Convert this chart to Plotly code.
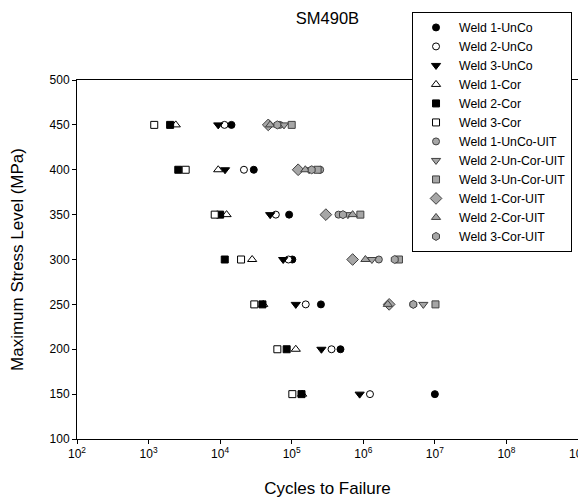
import plotly.graph_objects as go

stress = [450, 400, 350, 300, 250, 200, 150]
stress_uit = [450, 400, 350, 300, 250]

weld1_unco = [1.44e4, 2.95e4, 9.2e4, 1.02e5, 2.56e5, 4.8e5, 1.0e7]
weld2_unco = [1.15e4, 2.15e4, 6.0e4, 9.0e4, 1.57e5, 3.6e5, 1.24e6]
weld3_unco = [9.4e3, 1.17e4, 5.0e4, 7.6e4, 1.14e5, 2.6e5, 8.9e5]
weld1_cor = [2.4e3, 9.4e3, 1.23e4, 2.8e4, 4.0e4, 1.14e5, 1.4e5]
weld2_cor = [2.0e3, 2.6e3, 1.0e4, 1.16e4, 3.9e4, 8.5e4, 1.37e5]
weld3_cor = [1.2e3, 3.3e3, 8.4e3, 1.96e4, 3.0e4, 6.3e4, 1.02e5]

weld1_unco_uit = [6.8e4, 2.5e5, 4.5e5, 1.65e6, 5.0e6]
weld2_uncor_uit = [7.8e4, 1.75e5, 6.1e5, 1.32e6, 6.9e6]
weld3_uncor_uit = [1.0e5, 2.3e5, 9.1e5, 3.15e6, 1.02e7]
weld1_cor_uit = [4.7e4, 1.23e5, 3.0e5, 7.1e5, 2.3e6]
weld2_cor_uit = [5.0e4, 1.55e5, 7.1e5, 1.07e6, 2.2e6]
weld3_cor_uit = [6.3e4, 1.9e5, 5.2e5, 2.75e6, 5.0e6]

x_tickvals = [1e2, 1e3, 1e4, 1e5, 1e6, 1e7, 1e8, 1e9]
x_ticktext = ["10<sup>2</sup>", "10<sup>3</sup>", "10<sup>4</sup>", "10<sup>5</sup>",
              "10<sup>6</sup>", "10<sup>7</sup>", "10<sup>8</sup>", "10<sup>9</sup>"]

BLACK = "#000000"
WHITE = "#ffffff"
GRAY = "#a6a6a6"
DGRAY = "#404040"

series = [
    ("Weld 1-UnCo", weld1_unco, stress, "circle", BLACK, BLACK, 7),
    ("Weld 2-UnCo", weld2_unco, stress, "circle", WHITE, BLACK, 7),
    ("Weld 3-UnCo", weld3_unco, stress, "triangle-down", BLACK, BLACK, 8),
    ("Weld 1-Cor", weld1_cor, stress, "triangle-up", WHITE, BLACK, 8),
    ("Weld 2-Cor", weld2_cor, stress, "square", BLACK, BLACK, 7),
    ("Weld 3-Cor", weld3_cor, stress, "square", WHITE, BLACK, 7),
    ("Weld 1-UnCo-UIT", weld1_unco_uit, stress_uit, "circle", GRAY, DGRAY, 7),
    ("Weld 2-Un-Cor-UIT", weld2_uncor_uit, stress_uit, "triangle-down", GRAY, DGRAY, 8),
    ("Weld 3-Un-Cor-UIT", weld3_uncor_uit, stress_uit, "square", GRAY, DGRAY, 7),
    ("Weld 1-Cor-UIT", weld1_cor_uit, stress_uit, "diamond", GRAY, DGRAY, 9),
    ("Weld 2-Cor-UIT", weld2_cor_uit, stress_uit, "triangle-up", GRAY, DGRAY, 8),
    ("Weld 3-Cor-UIT", weld3_cor_uit, stress_uit, "hexagon", GRAY, DGRAY, 8),
]

fig = go.Figure()
for name, xs, ys, sym, fill, line, size in series:
    fig.add_trace(go.Scatter(
        x=xs, y=ys, mode="markers", name=name,
        marker=dict(symbol=sym, color=fill, size=size, line=dict(color=line, width=1)),
    ))

# the page body adds an 8px offset; figure is sized to fill the rest of the window
fig.update_layout(
    width=578, height=491,
    margin=dict(l=69, r=8, t=72, b=60, autoexpand=False),
    paper_bgcolor="white", plot_bgcolor="white",
    font=dict(family="Liberation Sans, Arial, sans-serif", size=12, color="black"),
    title=dict(text="SM490B", x=0.5, xref="paper", xanchor="center", y=0.98, yanchor="middle",
               font=dict(size=16.5)),
    showlegend=True,
    legend=dict(xref="container", yref="container", x=0.699, y=0.992,
                xanchor="left", yanchor="top",
                bgcolor="white", bordercolor="black", borderwidth=1,
                font=dict(size=12.3), tracegroupgap=0, itemsizing="trace", itemwidth=36),
    xaxis=dict(type="log", range=[2, 9], tickvals=x_tickvals, ticktext=x_ticktext,
               ticklabeloverflow="allow",
               showline=True, linecolor="black", linewidth=1, mirror=True, automargin=False,
               ticks="outside", ticklen=4, tickcolor="black", showgrid=False, zeroline=False,
               title=dict(text="Cycles to Failure", font=dict(size=17), standoff=21)),
    yaxis=dict(range=[100, 500], dtick=50, tick0=100, automargin=False,
               showline=True, linecolor="black", linewidth=1, mirror=True,
               ticks="outside", ticklen=4, tickcolor="black", showgrid=False, zeroline=False,
               title=dict(text="Maximum Stress Level (MPa)", font=dict(size=17), standoff=21)),
)

fig.write_html("out.html")
